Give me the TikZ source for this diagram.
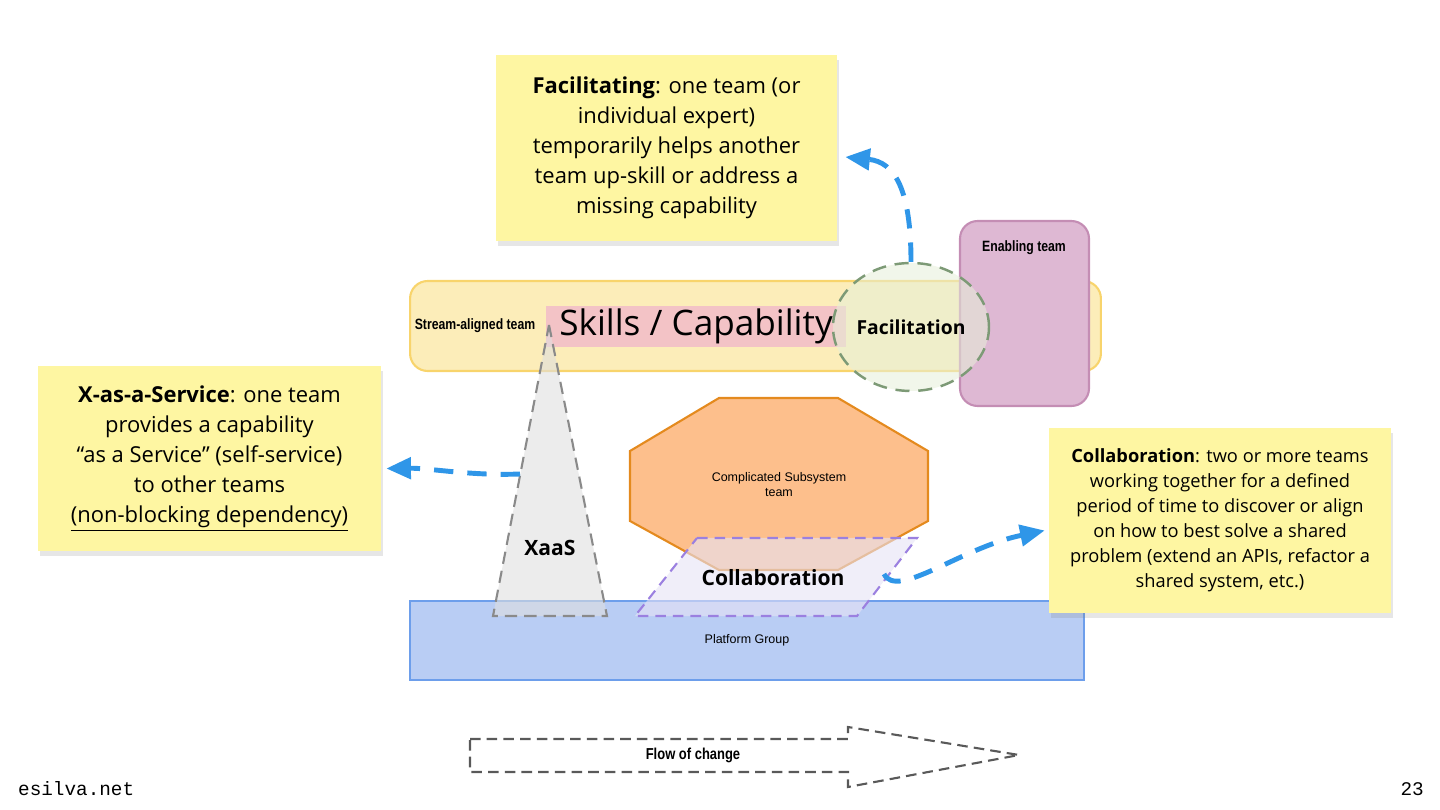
\documentclass[tikz,border=0pt]{standalone}
\usepackage{fontspec}
\setmainfont{Open Sans}
\setmonofont{Liberation Mono}
\newfontfamily\arialfont{Liberation Sans}
\newfontfamily\narrowfont[FakeStretch=0.82]{Liberation Sans}
\usetikzlibrary{arrows.meta,shapes.geometric,shadows}

\definecolor{noteyellow}{HTML}{FEF6A2}
\definecolor{streamfill}{HTML}{FCEDB9}
\definecolor{streamline}{HTML}{F8D46C}
\definecolor{skillpink}{HTML}{F3C3C6}
\definecolor{enablefill}{HTML}{DEB8D3}
\definecolor{enableline}{HTML}{C48DB4}
\definecolor{facilline}{HTML}{7D9A76}
\definecolor{facilfill}{HTML}{E6EFD8}
\definecolor{octfill}{HTML}{FDBF8C}
\definecolor{octline}{HTML}{E48A1E}
\definecolor{collabline}{HTML}{9B80E0}
\definecolor{collabfill}{HTML}{E6E2F5}
\definecolor{platfill}{HTML}{B9CDF4}
\definecolor{platline}{HTML}{6D9EEB}
\definecolor{flowblue}{HTML}{2F96E8}
\definecolor{xaasline}{HTML}{8A8A8A}

\begin{document}
\begin{tikzpicture}[x=0.02cm, y=-0.02cm,
  note/.style={fill=noteyellow, drop shadow={opacity=.2, shadow xshift=1pt, shadow yshift=-3pt}, align=center, inner sep=0pt, font=\fontsize{12.5}{17}\selectfont},
  bigtag/.style={font=\fontsize{12}{14}\selectfont\bfseries},
  teamlabel/.style={font=\narrowfont\bfseries\fontsize{8.5}{10}\selectfont},
  flow/.style={draw=flowblue, line width=2.8pt, dash pattern=on 11pt off 8pt, -{Triangle[length=14pt,width=12pt]}}]
	\useasboundingbox (0,0) rectangle (1440,810);
	% teams
	\node[draw=streamline, fill=streamfill, line width=1.2pt, rounded corners=10pt, minimum width=13.82cm, minimum height=1.8cm] (stream) at (755.5,326) {};
	\node[teamlabel] (streamlabel) at (475,326) {Stream-aligned team};
	\node[fill=skillpink, minimum width=6cm, minimum height=.82cm, inner sep=0pt, font=\fontsize{20}{24}\selectfont] (skills) at (696,326.5) {Skills / Capability};
	\node[draw=enableline, fill=enablefill, line width=1.2pt, rounded corners=10pt, minimum width=2.58cm, minimum height=3.7cm] (enabling) at (1024.5,313.5) {};
	\node[teamlabel] (enablinglabel) at (1024,248) {Enabling team};
	\node[draw=platline, fill=platfill, line width=1.2pt, minimum width=13.48cm, minimum height=1.58cm, font=\arialfont\fontsize{7.1}{9}\selectfont] (platform) at (747,640.5) {Platform Group};
	\draw[draw=octline, fill=octfill, line width=1.2pt] (719,398) -- (838,398) -- (928,451) -- (928,521) -- (838,570) -- (719,570) -- (630,521) -- (630,451) -- cycle;
	\node[align=center, font=\arialfont\fontsize{7.1}{8.5}\selectfont] (subsystem) at (779,485) {Complicated Subsystem\\team};
	% interaction modes
	\draw[draw=xaasline, fill=gray!25, fill opacity=.6, line width=1.2pt, dash pattern=on 7pt off 4pt] (549,325) -- (607,616) -- (493,616) -- cycle;
	\node[bigtag] (xaas) at (550,548) {XaaS};
	\coordinate (xaas-l) at (520,474);
	\draw[draw=collabline, fill=collabfill, fill opacity=.6, line width=1.2pt, dash pattern=on 6pt off 4pt] (697,538) -- (917,538) -- (857,616) -- (635,616) -- cycle;
	\node[bigtag] (collab) at (773,578) {Collaboration};
	\coordinate (collab-r) at (884,574);
	\node[ellipse, draw=facilline, fill=facilfill, fill opacity=.55, text opacity=1, line width=1.4pt, dash pattern=on 8pt off 5pt, inner sep=0pt, minimum width=3.12cm, minimum height=2.56cm, bigtag, font=\fontsize{11}{13}\selectfont\bfseries] (facil) at (911,327) {Facilitation};
	% sticky notes
	\node[note, minimum width=6.82cm, minimum height=3.72cm] (facnote) at (666.5,148) {\textbf{Facilitating}: one team (or\\individual expert)\\temporarily helps another\\team up-skill or address a\\missing capability};
	\node[note, minimum width=6.86cm, minimum height=3.7cm] (xnote) at (209.5,458.5) {\textbf{X-as-a-Service}: one team\\provides a capability\\“as a Service” (self-service)\\to other teams\\\underline{(non-blocking dependency)}};
	\node[note, minimum width=6.84cm, minimum height=3.7cm, font=\fontsize{10.4}{14.2}\selectfont] (colnote) at (1220,520.5) {\textbf{Collaboration}: two or more teams\\working together for a defined\\period of time to discover or align\\on how to best solve a shared\\problem (extend an APIs, refactor a\\shared system, etc.)};
	% arrows
	\draw[flow] (facil.north) .. controls (911,190) and (895,162) .. ([shift={(8,9)}]facnote.east);
	\draw[flow] (xaas-l) .. controls (470,476) and (430,468) .. ([shift={(5,10)}]xnote.east);
	\draw[flow] (collab-r) .. controls (897,600) and (960,548) .. ([shift={(-4,10)}]colnote.west);
	% flow of change
	\draw[draw=black!65, line width=1.2pt, dash pattern=on 6pt off 3.5pt] (470,739) -- (848,739) -- (848,727) -- (1019,755) -- (848,787) -- (848,772) -- (470,772) -- cycle;
	\node[teamlabel, font=\narrowfont\bfseries\fontsize{9}{10}\selectfont] (flowtext) at (693,755) {Flow of change};
	\node[anchor=west, font=\ttfamily\fontsize{11}{12}\selectfont] (site) at (12,789) {esilva.net};
	\node[anchor=east, font=\ttfamily\fontsize{11}{12}\selectfont] (page) at (1430,789) {23};
\end{tikzpicture}
\end{document}
